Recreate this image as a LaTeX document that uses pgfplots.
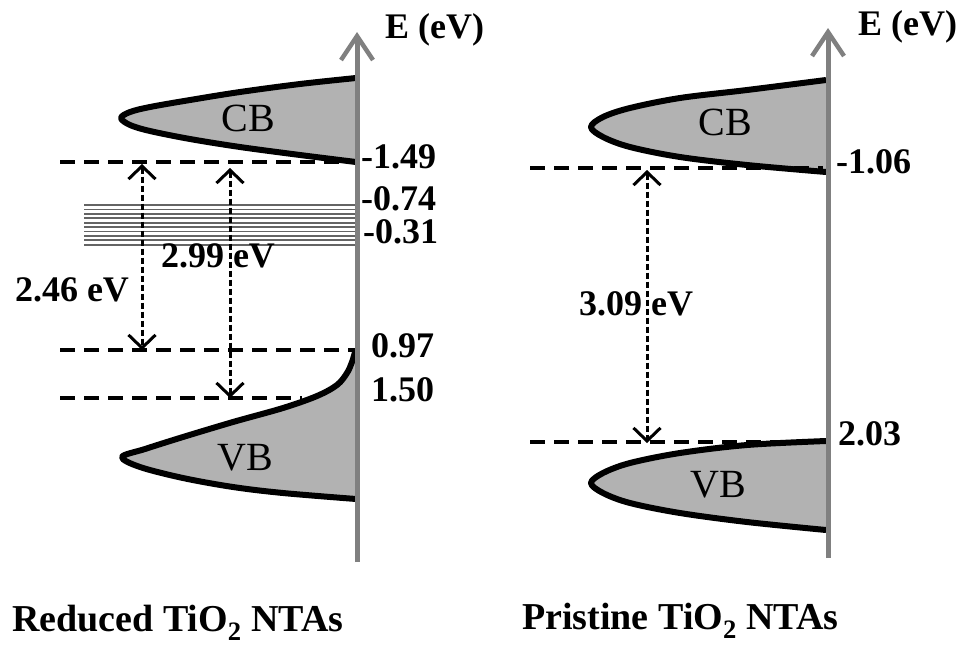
\documentclass[border=0pt]{standalone}
\usepackage{pgfplots}
\pgfplotsset{compat=1.18}
\usepackage{fontspec}
\setmainfont{Liberation Serif}
\usetikzlibrary{arrows.meta}
\definecolor{bandgray}{RGB}{178,178,178}
\definecolor{axgray}{RGB}{128,128,128}
\definecolor{defgray}{RGB}{100,100,100}
\newcommand\lab{\fontsize{36}{40}\selectfont\bfseries}
\newcommand\tlab{\fontsize{38}{42}\selectfont\bfseries}
\newcommand\blab{\fontsize{40}{44}\selectfont}
\begin{document}
\begin{tikzpicture}
\begin{axis}[x=1pt,y=1pt,y dir=reverse,xmin=0,xmax=967,ymin=0,ymax=649,
  hide axis,clip=false,scale only axis]
\path (rel axis cs:0,0) rectangle (rel axis cs:1,1);
% ---------- Left panel bands ----------
\addplot[smooth,tension=0.55,fill=bandgray,draw=black,line width=6pt,line join=round]
 coordinates {(356,78) (300,84) (240,92) (190,100) (150,107) (130,112) (121,118) (130,125) (150,131) (190,139) (240,147) (300,155) (356,162)};
\addplot[smooth,tension=0.55,fill=bandgray,draw=black,line width=6pt,line join=round]
 coordinates {(355,352) (352,362) (347,373) (337,385) (317,396) (283,408) (233,422) (183,437) (145,449) (122,457) (140,467) (183,478) (233,487) (283,493) (356,499)};
% defect levels
\addplot[defgray,line width=1.8pt] coordinates {(84,205) (355,205)};
\addplot[defgray,line width=1.8pt] coordinates {(84,209.4) (355,209.4)};
\addplot[defgray,line width=1.8pt] coordinates {(84,213.8) (355,213.8)};
\addplot[defgray,line width=1.8pt] coordinates {(84,218.2) (355,218.2)};
\addplot[defgray,line width=1.8pt] coordinates {(84,222.6) (355,222.6)};
\addplot[defgray,line width=1.8pt] coordinates {(84,227) (355,227)};
\addplot[defgray,line width=1.8pt] coordinates {(84,231.4) (355,231.4)};
\addplot[defgray,line width=1.8pt] coordinates {(84,235.8) (355,235.8)};
\addplot[defgray,line width=1.8pt] coordinates {(84,240.2) (355,240.2)};
\addplot[defgray,line width=1.8pt] coordinates {(84,245) (355,245)};
% dashed levels
\addplot[black,line width=3.5pt,dash pattern=on 15pt off 9pt] coordinates {(60,162) (352,162)};
\addplot[black,line width=3.5pt,dash pattern=on 15pt off 9pt] coordinates {(60,350) (355,350)};
\addplot[black,line width=3.5pt,dash pattern=on 15pt off 9pt] coordinates {(60,398) (302,398)};
% transitions
\addplot[black,line width=3pt,dash pattern=on 6pt off 3pt,
 arrows={Straight Barb[length=13pt,width=27pt,line width=3pt]-Straight Barb[length=13pt,width=27pt,line width=3pt]}]
 coordinates {(142,164) (142,350)};
\addplot[black,line width=3pt,dash pattern=on 6pt off 3pt,
 arrows={Straight Barb[length=13pt,width=27pt,line width=3pt]-Straight Barb[length=13pt,width=27pt,line width=3pt]}]
 coordinates {(230,168) (230,398)};
% energy axis
\addplot[axgray,line width=5pt,arrows={-Straight Barb[length=24pt,width=32pt,line width=4.5pt]}]
 coordinates {(357,562) (357,32)};
% ---------- Right panel bands ----------
\addplot[smooth,tension=0.55,fill=bandgray,draw=black,line width=6pt,line join=round]
 coordinates {(826,80) (747,90) (680,98) (630,108) (603,117) (591,127) (603,137) (630,147) (680,157) (747,165) (826,172)};
\addplot[smooth,tension=0.55,fill=bandgray,draw=black,line width=6pt,line join=round]
 coordinates {(826,441) (747,445) (680,453) (630,463) (603,473) (591,483) (603,493) (630,503) (680,513) (747,522) (826,530)};
\addplot[black,line width=3.5pt,dash pattern=on 15pt off 9pt] coordinates {(530,168) (823,168)};
\addplot[black,line width=3.5pt,dash pattern=on 15pt off 9pt] coordinates {(530,442) (823,442)};
\addplot[black,line width=3pt,dash pattern=on 6pt off 3pt,
 arrows={Straight Barb[length=13pt,width=27pt,line width=3pt]-Straight Barb[length=13pt,width=27pt,line width=3pt]}]
 coordinates {(647,170) (647,443)};
\addplot[axgray,line width=5pt,arrows={-Straight Barb[length=24pt,width=32pt,line width=4.5pt]}]
 coordinates {(828,558) (828,28)};
% ---------- labels ----------
\node[anchor=west,inner sep=0] at (axis cs:385,30) {\lab E (eV)};
\node[anchor=west,inner sep=0] at (axis cs:858,27) {\lab E (eV)};
\node[inner sep=0] at (axis cs:248,118) {\blab CB};
\node[inner sep=0] at (axis cs:245,458) {\blab VB};
\node[inner sep=0] at (axis cs:725,122) {\blab CB};
\node[inner sep=0] at (axis cs:718,485) {\blab VB};
\node[anchor=west,inner sep=0] at (axis cs:361,157) {\lab -1.49};
\node[anchor=west,inner sep=0] at (axis cs:361,199) {\lab -0.74};
\node[anchor=west,inner sep=0] at (axis cs:363,232) {\lab -0.31};
\node[anchor=west,inner sep=0] at (axis cs:371,346) {\lab 0.97};
\node[anchor=west,inner sep=0] at (axis cs:371,390) {\lab 1.50};
\node[anchor=west,inner sep=0] at (axis cs:836,162) {\lab -1.06};
\node[anchor=west,inner sep=0] at (axis cs:838,434) {\lab 2.03};
\node[inner sep=0] at (axis cs:72,290) {\lab 2.46 eV};
\node[inner sep=0] at (axis cs:218,256) {\lab 2.99 eV};
\node[inner sep=0] at (axis cs:636,304) {\lab 3.09 eV};
\node[anchor=base west,inner sep=0] at (axis cs:12,631) {\tlab Reduced TiO\textsubscript{2} NTAs};
\node[anchor=base west,inner sep=0] at (axis cs:522,629) {\tlab Pristine TiO\textsubscript{2} NTAs};
\end{axis}
\end{tikzpicture}
\end{document}
